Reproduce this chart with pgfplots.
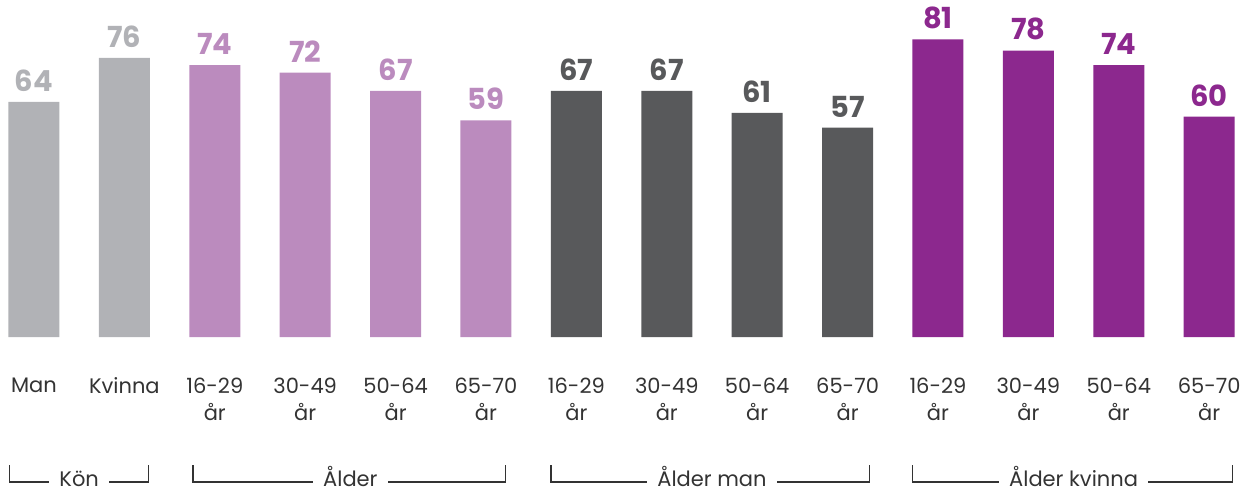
\documentclass[border=0pt]{standalone}
\usepackage{pgfplots}
\pgfplotsset{compat=1.18}
\usepackage{fontspec}
\setmainfont{Poppins}
\definecolor{cgray}{HTML}{B1B2B6}
\definecolor{clilac}{HTML}{BB8BBE}
\definecolor{cdark}{HTML}{58595B}
\definecolor{cpurple}{HTML}{8C288E}
\definecolor{ctext}{HTML}{333333}
\begin{document}
\begin{tikzpicture}
\begin{axis}[
  scale only axis,
  width=628pt, height=168.5pt,
  xmin=-0.376, xmax=13.518,
  ymin=0, ymax=91.75,
  axis line style={draw=none},
  major tick length=0pt,
  ytick=\empty,
  xtick={0,...,13},
  xticklabels={Man,Kvinna,{16-29\\år},{30-49\\år},{50-64\\år},{65-70\\år},{16-29\\år},{30-49\\år},{50-64\\år},{65-70\\år},{16-29\\år},{30-49\\år},{50-64\\år},{65-70\\år}},
  xticklabel style={align=center, text=ctext, font={\fontsize{10.5}{13.5}\selectfont}, yshift=-16.8pt},
  ybar, bar width=25.5pt, bar shift=0pt,
  /pgf/number format/assume math mode=true,
  nodes near coords,
  nodes near coords style={font={\fontsize{14.5}{17}\selectfont\bfseries}, inner sep=0pt, yshift=5pt, anchor=south},
  clip=false,
]
\addplot[fill=cgray, draw=none, nodes near coords style={text=cgray}] coordinates {(0,64) (1,76)};
\addplot[fill=clilac, draw=none, nodes near coords style={text=clilac}] coordinates {(2,74) (3,72) (4,67) (5,59)};
\addplot[fill=cdark, draw=none, nodes near coords style={text=cdark}] coordinates {(6,67) (7,67) (8,61) (9,57)};
\addplot[fill=cpurple, draw=none, nodes near coords style={text=cpurple}] coordinates {(10,81) (11,78) (12,74) (13,60)};

\draw[ctext, line width=0.6pt] (axis cs:-0.27,-34.85) -- (axis cs:-0.27,-39.48) -- (axis cs:1.27,-39.48) -- (axis cs:1.27,-34.85);
\draw[ctext, line width=0.6pt] (axis cs:1.76,-34.85) -- (axis cs:1.76,-39.48) -- (axis cs:5.22,-39.48) -- (axis cs:5.22,-34.85);
\draw[ctext, line width=0.6pt] (axis cs:5.72,-34.85) -- (axis cs:5.72,-39.48) -- (axis cs:9.24,-39.48) -- (axis cs:9.24,-34.85);
\draw[ctext, line width=0.6pt] (axis cs:9.72,-34.85) -- (axis cs:9.72,-39.48) -- (axis cs:13.26,-39.48) -- (axis cs:13.26,-34.85);
\tikzset{grp/.style={fill=white, anchor=base, inner xsep=5pt, inner ysep=0.5pt, text=ctext, font={\fontsize{10.5}{13.5}\selectfont}}}
\node[grp] at (axis cs:0.5,-40.57) {Kön};
\node[grp] at (axis cs:3.5,-40.57) {Ålder};
\node[grp] at (axis cs:7.5,-40.57) {Ålder man};
\node[grp] at (axis cs:11.5,-40.57) {Ålder kvinna};
\end{axis}
\pgfresetboundingbox
\path (current axis.south west) ++(0,-79pt) rectangle (current axis.north east);
\end{tikzpicture}
\end{document}
